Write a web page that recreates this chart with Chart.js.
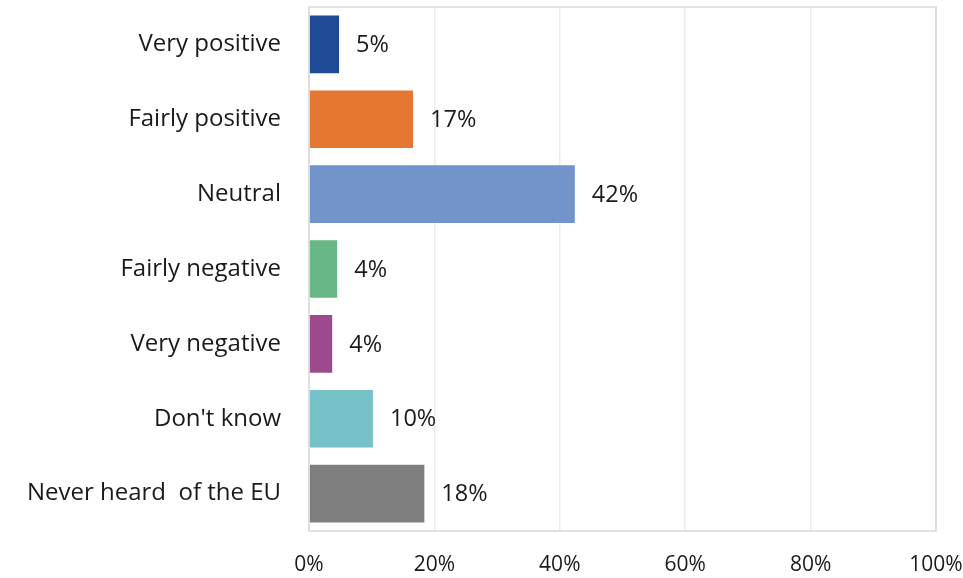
<!DOCTYPE html>
<html>
<head>
<meta charset="utf-8">
<script src="https://cdn.jsdelivr.net/npm/chart.js@4/dist/chart.umd.min.js"></script>
<style>
  html, body { margin: 0; padding: 0; background: #fff; }
  #wrap { width: 963px; height: 578px; position: relative; }
</style>
</head>
<body>
<div id="wrap"><canvas id="euChart"></canvas></div>
<script>
// answers and shares (%)
const categories = ['Very positive', 'Fairly positive', 'Neutral', 'Fairly negative', 'Very negative', "Don't know", 'Never heard  of the EU'];
const shares = [4.8, 16.6, 42.4, 4.5, 3.7, 10.2, 18.4];
const shareLabels = ['5%', '17%', '42%', '4%', '4%', '10%', '18%'];
const xTicks = [0, 20, 40, 60, 80, 100];

const barColors = ['#1f4b96', '#e47731', '#7394cb', '#68b787', '#9b4a8c', '#76c2c8', '#7f7f7f'];
const FONT = "'Open Sans', sans-serif";

// value labels just past the end of each bar
const valueLabels = {
  id: 'valueLabels',
  afterDatasetsDraw(chart) {
    const ctx = chart.ctx;
    const meta = chart.getDatasetMeta(0);
    ctx.save();
    ctx.font = '23.5px ' + FONT;
    ctx.fillStyle = '#1a1a1a';
    ctx.textAlign = 'left';
    ctx.textBaseline = 'middle';
    meta.data.forEach((bar, i) => {
      ctx.fillText(shareLabels[i], bar.x + 17, bar.y + 1);
    });
    ctx.restore();
  }
};

// light frame around the plot area
const plotFrame = {
  id: 'plotFrame',
  afterDraw(chart) {
    const a = chart.chartArea;
    const ctx = chart.ctx;
    ctx.save();
    ctx.strokeStyle = '#d9d9d9';
    ctx.lineWidth = 1.5;
    ctx.strokeRect(a.left, a.top, a.right - a.left, a.bottom - a.top);
    ctx.restore();
  }
};

new Chart(document.getElementById('euChart').getContext('2d'), {
  type: 'bar',
  data: {
    labels: categories,
    datasets: [{
      data: shares,
      backgroundColor: barColors,
      borderWidth: 0,
      barPercentage: 0.77,
      categoryPercentage: 1
    }]
  },
  options: {
    indexAxis: 'y',
    responsive: true,
    maintainAspectRatio: false,
    animation: false,
    layout: { padding: { top: 7, right: 27, left: 0, bottom: 0 } },
    plugins: {
      legend: { display: false },
      tooltip: { enabled: false }
    },
    scales: {
      x: {
        min: 0,
        max: 100,
        afterBuildTicks(scale) {
          scale.ticks = xTicks.map(v => ({ value: v }));
        },
        afterFit(scale) {
          scale.height = 47;
          scale.paddingLeft = 0;
          scale.paddingRight = 0;
        },
        grid: { color: '#ececec', lineWidth: 1.5, drawTicks: false },
        border: { display: false },
        ticks: {
          padding: 21,
          color: '#1a1a1a',
          font: { family: FONT, size: 21 },
          maxRotation: 0,
          callback: v => v + '%'
        }
      },
      y: {
        afterFit(scale) {
          scale.width = 309;
          scale.paddingTop = 0;
          scale.paddingBottom = 0;
        },
        grid: { display: false },
        border: { display: false },
        ticks: {
          padding: 20,
          color: '#1a1a1a',
          font: { family: FONT, size: 24 }
        }
      }
    }
  },
  plugins: [valueLabels, plotFrame]
});
</script>
</body>
</html>
